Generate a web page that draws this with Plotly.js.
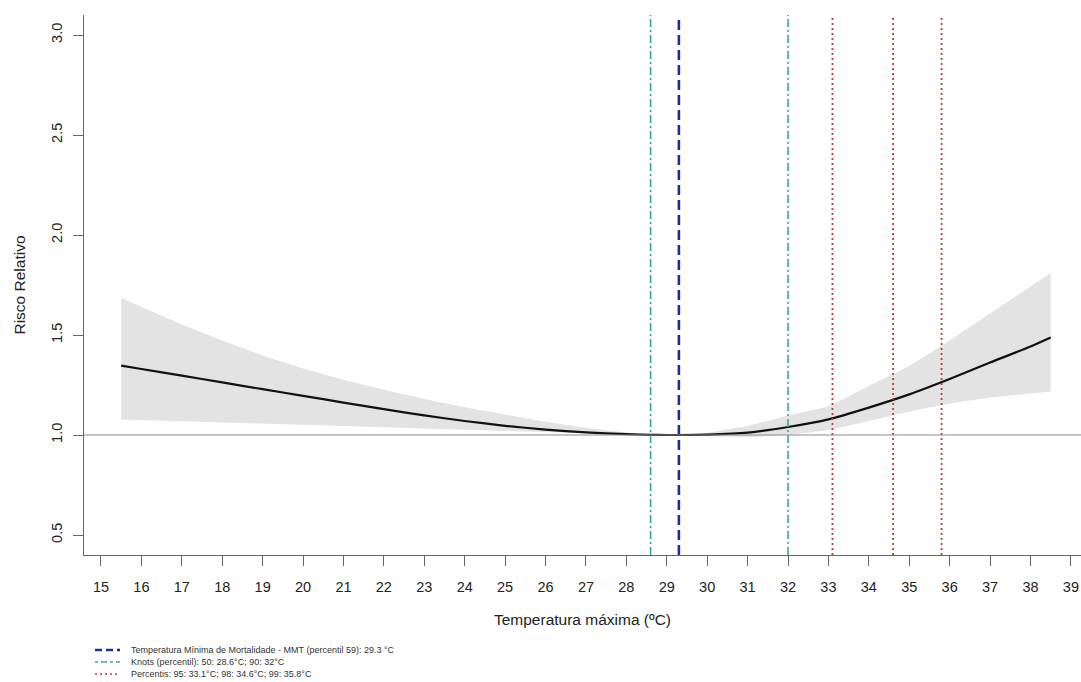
<!DOCTYPE html>
<html>
<head>
<meta charset="utf-8">
<script src="https://cdn.plot.ly/plotly-3.0.1.min.js"></script>
<style>body{margin:0;padding:0;background:#fff;overflow:hidden}#chart{width:1081px;height:682px}</style>
</head>
<body>
<div id="chart"></div>
<script>
// Temperature grid (°C)
const temps = [15.5, 16, 17, 18, 19, 20, 21, 22, 23, 24, 25, 26, 27, 28, 28.6, 29, 29.3, 30, 31, 32, 33, 34, 35, 36, 37, 38, 38.5];
// Relative risk (central estimate)
const rr = [1.347, 1.330, 1.297, 1.263, 1.229, 1.196, 1.162, 1.129, 1.098, 1.070, 1.046, 1.027, 1.013, 1.004, 1.001, 1.000, 1.000, 1.002, 1.012, 1.040, 1.078, 1.137, 1.203, 1.280, 1.362, 1.443, 1.488];
// Upper 95% CI
const rrHigh = [1.685, 1.640, 1.553, 1.472, 1.398, 1.333, 1.276, 1.226, 1.180, 1.139, 1.101, 1.066, 1.036, 1.012, 1.003, 1.001, 1.000, 1.010, 1.045, 1.097, 1.142, 1.245, 1.345, 1.472, 1.608, 1.740, 1.810];
// Lower 95% CI
const rrLow = [1.077, 1.075, 1.069, 1.063, 1.057, 1.051, 1.045, 1.039, 1.032, 1.026, 1.020, 1.014, 1.008, 1.003, 1.000, 1.000, 1.000, 0.994, 0.990, 1.000, 1.024, 1.070, 1.118, 1.158, 1.188, 1.208, 1.217];

// Reference lines
const mmt = [29.3];
const knots = [28.6, 32];
const percentis = [33.1, 34.6, 35.8];
const yRange = [0.4, 3.1];

const xTicks = [15,16,17,18,19,20,21,22,23,24,25,26,27,28,29,30,31,32,33,34,35,36,37,38,39];
const yTicks = [0.5, 1.0, 1.5, 2.0, 2.5, 3.0];
const yTickText = ["0.5", "1.0", "1.5", "2.0", "2.5", "3.0"];

const legendNames = [
  "Temperatura Mínima de Mortalidade - MMT (percentil 59): 29.3 °C",
  "Knots (percentil): 50: 28.6°C; 90: 32°C",
  "Percentis: 95: 33.1°C; 98: 34.6°C; 99: 35.8°C"
];

const styles = [
  {color: '#222e86', width: 2.6, dash: '10px,5px'},
  {color: '#3aaa80', width: 1.6, dash: '8px,3px,2px,3px'},
  {color: '#c43a3a', width: 1.8, dash: '2px,3px'}
];
const keyStyles = [
  {color: '#222e86', width: 2.4, dash: '7px,4px'},
  {color: '#3aaa80', width: 1.4, dash: '3px,3px,6px,3px'},
  {color: '#c43a3a', width: 1.6, dash: '2px,3px'}
];

function vlines(vals) {
  const xs = [], ys = [];
  vals.forEach(v => { xs.push(v, v, null); ys.push(yRange[0], yRange[1], null); });
  return {x: xs, y: ys};
}

const traces = [];
traces.push({
  x: temps.concat(temps.slice().reverse()),
  y: rrHigh.concat(rrLow.slice().reverse()),
  type: 'scatter', mode: 'lines', fill: 'toself',
  fillcolor: '#e3e3e3', line: {width: 0, color: 'rgba(0,0,0,0)'},
  showlegend: false, hoverinfo: 'skip'
});
traces.push({
  x: temps, y: rr, type: 'scatter', mode: 'lines',
  line: {color: '#111111', width: 2.2, shape: 'spline', smoothing: 0.6},
  showlegend: false
});
[knots, percentis, mmt].forEach((vals, i) => {
  const idx = [1, 2, 0][i];
  const v = vlines(vals);
  traces.push({x: v.x, y: v.y, type: 'scatter', mode: 'lines', name: legendNames[idx],
    line: styles[idx], showlegend: false});
});

// Manual legend (keys + labels) placed below the axis
const plotL = 84, plotW = 997, plotB = 555, plotH = 540;
const legRows = [650, 662, 674];
const shapes = [{type: 'line', xref: 'paper', x0: 0, x1: 1, yref: 'y', y0: 1, y1: 1,
  line: {color: '#8a8a8a', width: 1.2}, layer: 'above'}];
const annotations = [];
legRows.forEach((py, i) => {
  const yp = (plotB - py) / plotH;
  shapes.push({type: 'line', xref: 'paper', yref: 'paper',
    x0: (95 - plotL) / plotW, x1: (120 - plotL) / plotW, y0: yp, y1: yp, line: keyStyles[i]});
  annotations.push({xref: 'paper', yref: 'paper', x: (129 - plotL) / plotW, y: yp,
    xanchor: 'left', yanchor: 'middle', showarrow: false, text: legendNames[i],
    font: {size: 9, color: '#333', family: 'Liberation Sans, Arial, sans-serif'}});
});

const fontFam = 'Liberation Sans, Arial, sans-serif';
const layout = {
  width: 1081, height: 682,
  margin: {l: 84, r: 0, t: 15, b: 127},
  paper_bgcolor: '#ffffff', plot_bgcolor: '#ffffff',
  font: {family: fontFam, color: '#222', size: 14},
  showlegend: false,
  xaxis: {
    range: [14.58, 39.25], tickvals: xTicks, ticktext: xTicks.map(String),
    showgrid: false, zeroline: false, showline: true, linecolor: '#666', linewidth: 1.2,
    ticks: 'outside', ticklen: 10, tickcolor: '#666', tickwidth: 1,
    tickfont: {size: 14.5, color: '#222'}, ticklabelstandoff: 8, ticklabeloverflow: 'allow',
    title: {text: 'Temperatura máxima (ºC)', font: {size: 15.5, color: '#222'}, standoff: 20},
    automargin: false, fixedrange: true
  },
  yaxis: {
    range: yRange, tickvals: yTicks, ticktext: yTickText, tickangle: -90,
    showgrid: false, zeroline: false, showline: true, linecolor: '#666', linewidth: 1.2,
    ticks: 'outside', ticklen: 10, tickcolor: '#666', tickwidth: 1,
    tickfont: {size: 14.5, color: '#222'}, ticklabelstandoff: 5,
    title: {text: 'Risco Relativo', font: {size: 15.5, color: '#222'}, standoff: 19},
    automargin: false, fixedrange: true
  },
  shapes: shapes,
  annotations: annotations
};

Plotly.newPlot('chart', traces, layout, {displayModeBar: false, staticPlot: true});
</script>
</body>
</html>
